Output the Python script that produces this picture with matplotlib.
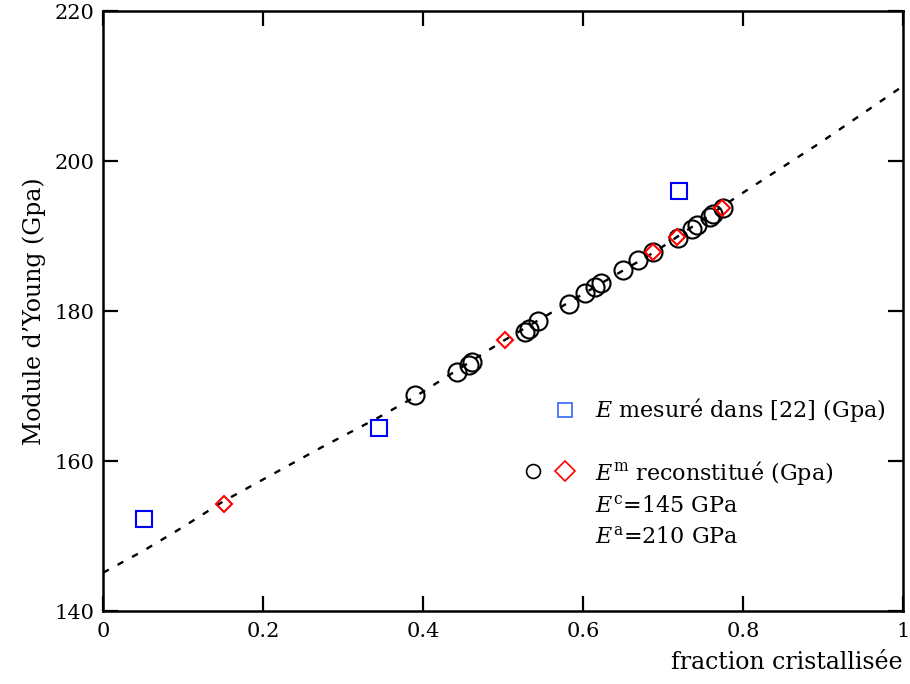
import matplotlib
matplotlib.use('Agg')
import matplotlib.pyplot as plt

# guide line (rule of mixtures)
line_frac = [0.0, 0.05, 0.10, 0.15, 0.271, 0.3425, 0.3875, 0.50, 0.69, 0.796, 0.896, 1.0]
line_E = [145.1, 148.0, 151.2, 154.6, 161.7, 165.7, 168.4, 176.0, 187.9, 195.5, 202.4, 210.0]

# E measured in [22]
meas_frac = [0.051, 0.345, 0.72]
meas_E = [152.3, 164.4, 196.0]

# reconstructed E (circles)
circ_frac = [0.39, 0.442, 0.457, 0.461, 0.5275, 0.532, 0.544, 0.582, 0.6025, 0.615,
             0.623, 0.6505, 0.669, 0.688, 0.719, 0.736, 0.742, 0.759, 0.763, 0.775]
circ_E = [168.8, 171.9, 172.8, 173.2, 177.2, 177.6, 178.7, 181.0, 182.4, 183.2,
          183.7, 185.5, 186.8, 187.9, 189.7, 191.0, 191.5, 192.6, 193.0, 193.7]

# reconstructed E (diamonds)
diam_frac = [0.151, 0.5025, 0.688, 0.717, 0.774]
diam_E = [154.3, 176.1, 187.9, 189.9, 193.7]

plt.rcParams['font.family'] = ['DejaVu Serif']
plt.rcParams['mathtext.fontset'] = 'custom'
plt.rcParams['mathtext.rm'] = 'DejaVu Serif'
plt.rcParams['mathtext.it'] = 'DejaVu Serif:italic'
TICK_FS = 15
LABEL_FS = 17
KEY_FS = 16

fig = plt.figure(figsize=(9.10, 6.84), dpi=100)
ax = fig.add_axes([0.1132, 0.1067, 0.8791, 0.8772])

ax.plot(line_frac, line_E, color='black', lw=1.7, dashes=(2.8, 4.2))
ax.plot(circ_frac, circ_E, 'o', ms=13, mfc='none', mec='black', mew=1.5)
ax.plot(diam_frac, diam_E, 'D', ms=8.5, mfc='none', mec='red', mew=1.5)
ax.plot(meas_frac, meas_E, 's', ms=11.5, mfc='none', mec='#0000ff', mew=1.5)

ax.set_xlim(0, 1)
ax.set_ylim(140, 220)
ax.set_xticks([0, 0.2, 0.4, 0.6, 0.8, 1])
ax.set_xticklabels(['0', '0.2', '0.4', '0.6', '0.8', '1'])
ax.set_yticks([140, 160, 180, 200, 220])
ax.tick_params(direction='in', length=11, width=1.6, top=True, right=True, labelsize=TICK_FS)
ax.tick_params(axis='y', pad=6)
ax.tick_params(axis='x', pad=8)
for sp in ax.spines.values():
    sp.set_linewidth(1.8)

ax.set_ylabel("Module d\u2019Young (Gpa)", fontsize=LABEL_FS, labelpad=6)
ax.set_xlabel('fraction cristallisée', fontsize=LABEL_FS, loc='right', labelpad=7)

# hand-placed key
ax.plot([0.577], [166.8], 's', ms=10, mfc='none', mec='#3366ff', mew=1.2)
ax.text(0.615, 166.8, r'$E$ mesuré dans [22] (Gpa)', fontsize=KEY_FS, va='center')
ax.plot([0.5375], [158.7], 'o', ms=10, mfc='none', mec='black', mew=1.2)
ax.plot([0.5775], [158.7], 'D', ms=10, mfc='none', mec='red', mew=1.2)
ax.text(0.615, 158.4, r'$E^{\mathrm{m}}$ reconstitué (Gpa)', fontsize=KEY_FS, va='center')
ax.text(0.615, 153.9, r'$E^{\mathrm{c}}$=145 GPa', fontsize=KEY_FS, va='center')
ax.text(0.615, 149.8, r'$E^{\mathrm{a}}$=210 GPa', fontsize=KEY_FS, va='center')

fig.savefig('out.png', dpi=100)
